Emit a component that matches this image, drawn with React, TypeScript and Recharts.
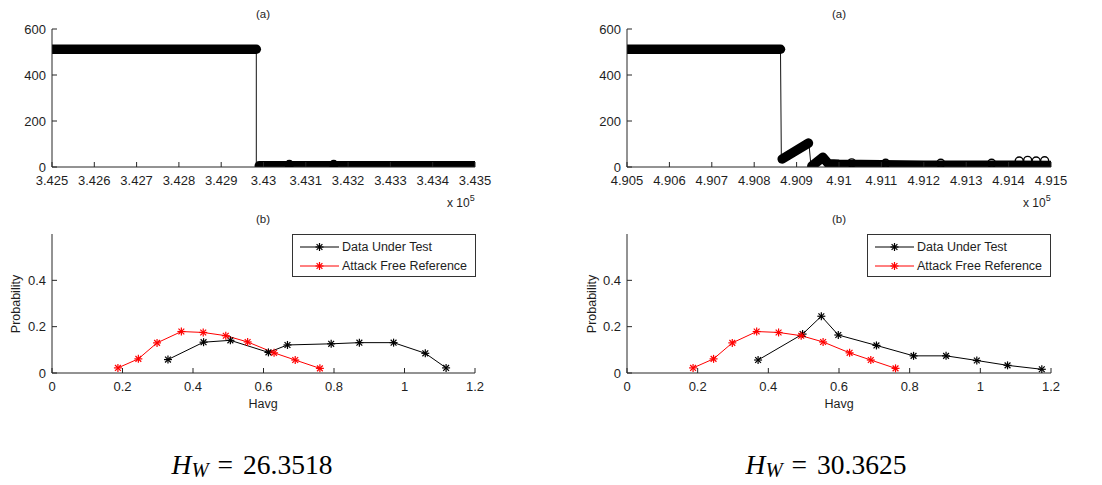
import React from 'react'
import { LineChart, Line, XAxis, YAxis, Legend } from 'recharts'

const AXIS = '#262626'
const TEXT = '#1e1e1e'
const SANS = '"Liberation Sans", Arial, Helvetica, sans-serif'
const SERIF = '"Liberation Serif", "Times New Roman", serif'

// (a) sample index vs. value
const aTicksLeft = [342500, 342600, 342700, 342800, 342900, 343000, 343100, 343200, 343300, 343400, 343500]
const aTicksRight = [490500, 490600, 490700, 490800, 490900, 491000, 491100, 491200, 491300, 491400, 491500]
const aYTicks = [0, 200, 400, 600]

const leftTrace = [
  { x: 342500, y: 512 }, { x: 342983, y: 512 }, { x: 342983, y: 5 }, { x: 343500, y: 5 },
]
const leftBandA = [{ x: 342500, y: 512 }, { x: 342983, y: 512 }]
const leftBandB = [{ x: 342990, y: 5 }, { x: 343500, y: 5 }]
const leftBumps = [{ x: 343061, y: 11 }, { x: 343166, y: 11 }]

const rightTrace = [
  { x: 490500, y: 512 }, { x: 490862, y: 512 }, { x: 490864, y: 35 }, { x: 490929, y: 104 },
  { x: 490934, y: 3 }, { x: 490962, y: 42 }, { x: 490974, y: 14 }, { x: 491000, y: 12 },
  { x: 491200, y: 8 }, { x: 491500, y: 7 },
]
const rightBandA = [{ x: 490500, y: 512 }, { x: 490862, y: 512 }]
const rightBandB = [{ x: 490866, y: 35 }, { x: 490928, y: 104 }]
const rightBandC = [
  { x: 490936, y: 4 }, { x: 490962, y: 42 }, { x: 490975, y: 14 }, { x: 491000, y: 12 },
  { x: 491200, y: 8 }, { x: 491500, y: 7 },
]
const rightBumps = [
  { x: 491030, y: 18 }, { x: 491110, y: 16 }, { x: 491240, y: 16 },
  { x: 491360, y: 16 }, { x: 491425, y: 26 }, { x: 491445, y: 29 },
  { x: 491465, y: 26 }, { x: 491485, y: 27 },
]

// (b) distribution of Havg
const bXTicks = [0, 0.2, 0.4, 0.6, 0.8, 1, 1.2]
const bYTicks = [0, 0.2, 0.4]
const seriesNames = ['Data Under Test', 'Attack Free Reference']
const seriesColors = ['#000000', '#ff0000']

const havgRef = [0.187, 0.245, 0.298, 0.367, 0.429, 0.493, 0.555, 0.63, 0.69, 0.76]
const probRef = [0.022, 0.061, 0.13, 0.179, 0.175, 0.161, 0.134, 0.087, 0.056, 0.02]
const havgTestLeft = [0.329, 0.43, 0.506, 0.614, 0.668, 0.792, 0.872, 0.969, 1.059, 1.118]
const probTestLeft = [0.058, 0.133, 0.141, 0.089, 0.121, 0.126, 0.131, 0.131, 0.085, 0.022]
const havgTestRight = [0.371, 0.497, 0.55, 0.598, 0.706, 0.811, 0.903, 0.99, 1.077, 1.174]
const probTestRight = [0.056, 0.168, 0.245, 0.164, 0.119, 0.074, 0.074, 0.054, 0.033, 0.016]

const toRows = (xs: number[], ys: number[]) => xs.map((h, i) => ({ h, p: ys[i] }))

const fmtE5 = (v: number) => String(Number((v / 1e5).toFixed(3)))
const fmtPlain = (v: number) => String(v)

const bottomTick = (fmt: (v: number) => string) => (p: any) => (
  <g>
    <line x1={p.x} y1={p.y} x2={p.x} y2={p.y - 5} stroke={AXIS} />
    <text x={p.x} y={p.y + 18} textAnchor="middle" fontSize={13} fontFamily={SANS} fill={TEXT}>
      {fmt(p.payload.value)}
    </text>
  </g>
)
const leftTick = (p: any) => (
  <g>
    <line x1={p.x} y1={p.y} x2={p.x + 5} y2={p.y} stroke={AXIS} />
    <text x={p.x - 6} y={p.y + 4.5} textAnchor="end" fontSize={13} fontFamily={SANS} fill={TEXT}>
      {fmtPlain(p.payload.value)}
    </text>
  </g>
)
const topTick = (p: any) => <line x1={p.x} y1={p.y} x2={p.x} y2={p.y + 5} stroke={AXIS} />
const rightTick = (p: any) => <line x1={p.x} y1={p.y} x2={p.x - 5} y2={p.y} stroke={AXIS} />

const starDot = (color: string) => (p: any) => {
  if (p.cx == null || p.cy == null) return <g key={'s' + p.index} />
  const r = 4
  const d = 2.9
  return (
    <g key={'s' + p.index} stroke={color} strokeWidth={1.2}>
      <line x1={p.cx - r} y1={p.cy} x2={p.cx + r} y2={p.cy} />
      <line x1={p.cx} y1={p.cy - r} x2={p.cx} y2={p.cy + r} />
      <line x1={p.cx - d} y1={p.cy - d} x2={p.cx + d} y2={p.cy + d} />
      <line x1={p.cx - d} y1={p.cy + d} x2={p.cx + d} y2={p.cy - d} />
    </g>
  )
}

function Frame({ xDomain, xTicks, yDomain, yTicks, fmtX, yWidth, xHeight }: any) {
  return [
    <XAxis key="xb" xAxisId={0} type="number" dataKey="x" domain={xDomain} ticks={xTicks} allowDataOverflow
      height={xHeight} stroke={AXIS} tickSize={0} tickMargin={0} tick={bottomTick(fmtX)} interval={0} />,
    <XAxis key="xt" xAxisId="top" orientation="top" type="number" domain={xDomain} ticks={xTicks} allowDataOverflow
      height={0} stroke={AXIS} tickSize={0} tickMargin={0} tick={topTick} interval={0} />,
    <YAxis key="yl" yAxisId={0} type="number" domain={yDomain} ticks={yTicks} allowDataOverflow
      width={yWidth} stroke={AXIS} tickSize={0} tickMargin={0} tick={leftTick} interval={0} />,
    <YAxis key="yr" yAxisId="right" orientation="right" type="number" domain={yDomain} ticks={yTicks} allowDataOverflow
      width={0} stroke={AXIS} tickSize={0} tickMargin={0} tick={rightTick} interval={0} />,
  ]
}

function PanelA({ ticks, trace, bands, bumps, bumpFill, yWidth, marginRight }: any) {
  const domain = [ticks[0], ticks[ticks.length - 1]]
  return (
    <LineChart width={551} height={220} margin={{ top: 29, right: marginRight, bottom: 0, left: 0 }}>
      {Frame({ xDomain: domain, xTicks: ticks, yDomain: [0, 600], yTicks: aYTicks, fmtX: fmtE5, yWidth, xHeight: 53 })}
      <Line data={trace} dataKey="y" stroke="#111" strokeWidth={1} dot={false} activeDot={false} isAnimationActive={false} />
      {bands.map((b: any, i: number) => (
        <Line key={i} data={b} dataKey="y" stroke="#000" strokeWidth={9.5} strokeLinecap="round" strokeLinejoin="round"
          dot={false} activeDot={false} isAnimationActive={false} />
      ))}
      <Line data={bumps} dataKey="y" stroke="none" strokeWidth={0} activeDot={false} isAnimationActive={false}
        dot={{ r: 4, fill: bumpFill, stroke: '#000', strokeWidth: 1.4 }} />
    </LineChart>
  )
}

function LegendBox() {
  return (
    <div style={{ width: 184, height: 43, boxSizing: 'border-box', border: '1px solid #333', background: '#fff', paddingTop: 2 }}>
      {seriesNames.map((n, i) => (
        <div key={n} style={{ height: 19.5, display: 'flex', alignItems: 'center', fontFamily: SANS, fontSize: 12.5, color: TEXT }}>
          <svg width={49} height={12} style={{ flex: 'none' }}>
            <line x1={7} y1={6} x2={46} y2={6} stroke={seriesColors[i]} strokeWidth={1} />
            {starDot(seriesColors[i])({ cx: 26.5, cy: 6, index: 0 })}
          </svg>
          <span style={{ whiteSpace: 'nowrap' }}>{n}</span>
        </div>
      ))}
    </div>
  )
}

function PanelB({ test, yWidth, marginRight, legendLeft }: any) {
  const ref = toRows(havgRef, probRef)
  return (
    <LineChart width={551} height={180} margin={{ top: 14, right: marginRight, bottom: 0, left: 0 }}>
      {Frame({ xDomain: [0, 1.2], xTicks: bXTicks, yDomain: [0, 0.6], yTicks: bYTicks, fmtX: fmtPlain, yWidth, xHeight: 27 })}
      <XAxis xAxisId="h" dataKey="h" type="number" domain={[0, 1.2]} hide />
      <Line xAxisId="h" data={test} dataKey="p" name={seriesNames[0]} stroke={seriesColors[0]} strokeWidth={1}
        dot={starDot(seriesColors[0])} activeDot={false} isAnimationActive={false} />
      <Line xAxisId="h" data={ref} dataKey="p" name={seriesNames[1]} stroke={seriesColors[1]} strokeWidth={1}
        dot={starDot(seriesColors[1])} activeDot={false} isAnimationActive={false} />
      <Legend layout="vertical" align="center" verticalAlign="middle"
        wrapperStyle={{ left: legendLeft, top: 14, width: 184, height: 43 }} content={() => <LegendBox />} />
    </LineChart>
  )
}

const Label = ({ x, y, size = 12.5, rotate = 0, children }: any) => (
  <div style={{
    position: 'absolute', left: x, top: y, transform: `translate(-50%, -50%) rotate(${rotate}deg)`,
    fontFamily: SANS, fontSize: size, color: TEXT, whiteSpace: 'nowrap', lineHeight: 1,
  }}>{children}</div>
)

const Exp = ({ x }: any) => (
  <div style={{ position: 'absolute', left: x, top: 196, fontFamily: SANS, fontSize: 12, color: TEXT, whiteSpace: 'nowrap', lineHeight: '14px' }}>
    x 10<span style={{ position: 'relative', top: -6, fontSize: 9 }}>5</span>
  </div>
)

const Caption = ({ x, value }: any) => (
  <div style={{
    position: 'absolute', left: x, top: 452, transform: 'translateX(-50%)', fontFamily: SERIF,
    fontSize: 27.5, lineHeight: '26px', height: 28, color: '#000', whiteSpace: 'nowrap',
  }}>
    <i>H</i><i style={{ position: 'relative', top: 3, fontSize: '0.75em', lineHeight: '16px' }}>W</i>
    <span style={{ display: 'inline-block', margin: '0 10px 0 9px' }}>=</span>{value}
  </div>
)

export default function App() {
  return (
    <div style={{ position: 'absolute', left: 0, top: 0, width: 1102, height: 485, background: '#fff', overflow: 'hidden' }}>
      <div style={{ position: 'absolute', left: 0, top: 0 }}>
        <PanelA ticks={aTicksLeft} trace={leftTrace} bands={[leftBandA, leftBandB]} bumps={leftBumps} bumpFill="#000"
          yWidth={52} marginRight={76} />
      </div>
      <div style={{ position: 'absolute', left: 551, top: 0 }}>
        <PanelA ticks={aTicksRight} trace={rightTrace} bands={[rightBandA, rightBandB, rightBandC]} bumps={rightBumps}
          bumpFill="none" yWidth={76} marginRight={51} />
      </div>
      <div style={{ position: 'absolute', left: 0, top: 220 }}>
        <PanelB test={toRows(havgTestLeft, probTestLeft)} yWidth={52} marginRight={76} legendLeft={292} />
      </div>
      <div style={{ position: 'absolute', left: 551, top: 220 }}>
        <PanelB test={toRows(havgTestRight, probTestRight)} yWidth={76} marginRight={51} legendLeft={316} />
      </div>

      <Label x={263} y={15} size={11.5}>(a)</Label>
      <Label x={839} y={15} size={11.5}>(a)</Label>
      <Label x={263} y={220} size={11.5}>(b)</Label>
      <Label x={839} y={220} size={11.5}>(b)</Label>
      <Exp x={447} />
      <Exp x={1023} />
      <Label x={16} y={304} rotate={-90}>Probability</Label>
      <Label x={592} y={304} rotate={-90}>Probability</Label>
      <Label x={263} y={404}>Havg</Label>
      <Label x={839} y={404}>Havg</Label>
      <Caption x={252} value="26.3518" />
      <Caption x={826} value="30.3625" />
    </div>
  )
}
